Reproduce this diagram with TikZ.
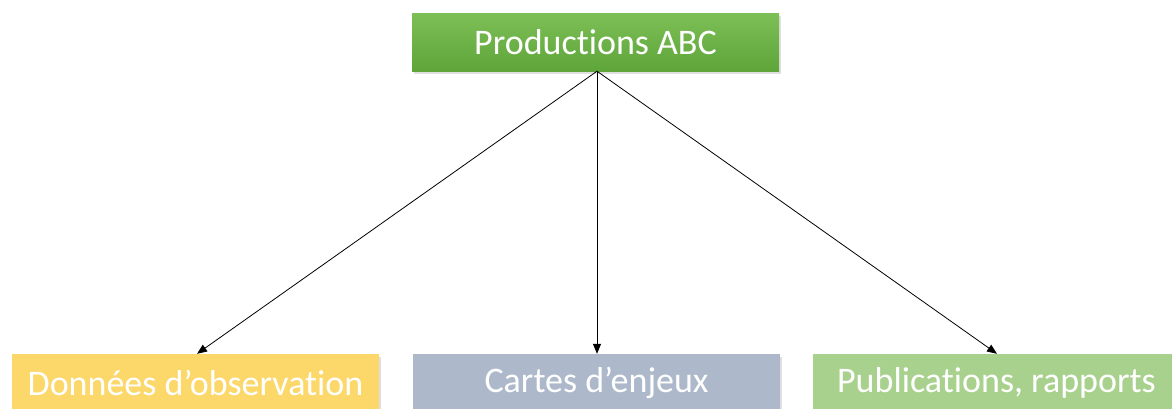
\documentclass[tikz,border=0pt]{standalone}
\usepackage{fontspec}
\setmainfont[Ligatures=NoCommon]{Carlito}
\usetikzlibrary{arrows.meta,shadows}
\definecolor{topgreen1}{HTML}{7CBF56}
\definecolor{topgreen2}{HTML}{5EA53A}
\definecolor{yelbox}{HTML}{FCD76A}
\definecolor{graybox}{HTML}{ADB9CA}
\definecolor{greenbox}{HTML}{A9D18E}
\tikzset{
  boxstyle/.style={rectangle, minimum width=367pt, minimum height=58pt, inner sep=0pt,
    text=white, font=\fontsize{36}{40}\selectfont,
    drop shadow={opacity=0.25, shadow xshift=1.5pt, shadow yshift=-2.5pt}},
  conn/.style={draw=black, line width=0.8pt, -{Triangle[length=10pt,width=8pt]}}
}
\begin{document}
\begin{tikzpicture}[x=1pt,y=-1pt]
\useasboundingbox (0,0) rectangle (1172,408);
\clip (0,0) rectangle (1172,408);
\node[boxstyle, top color=topgreen1, bottom color=topgreen2] (top) at (595.5,42) {Productions ABC};
\node[boxstyle, fill=yelbox] (obs) at (195.5,383) {Données d’observation};
\node[boxstyle, fill=graybox] (cartes) at (596.5,383) {Cartes d’enjeux};
\node[boxstyle, fill=greenbox] (pub) at (996.5,383) {Publications, rapports};
\draw[conn] ([xshift=1.5pt]top.south) -- ([xshift=1.5pt]obs.north);
\draw[conn] ([xshift=1.5pt]top.south) -- ([xshift=0.5pt]cartes.north);
\draw[conn] ([xshift=1.5pt]top.south) -- ([xshift=0.5pt]pub.north);
\end{tikzpicture}
\end{document}
